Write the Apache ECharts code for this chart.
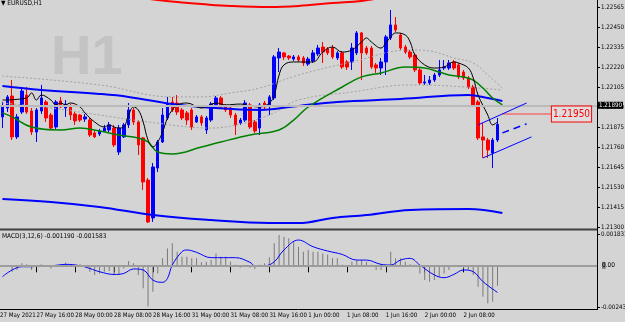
<!DOCTYPE html>
<html>
<head>
<meta charset="utf-8">
<script src="https://cdn.jsdelivr.net/npm/echarts@6/dist/echarts.min.js"></script>
<style>
html, body { margin: 0; padding: 0; background: #d4d4d4; }
#chart { width: 625px; height: 322px; }
</style>
</head>
<body>
<div id="chart"></div>
<script>
// hourly bars: day name and first hour of that day
var days = [['27 May', 9], ['28 May', 0], ['31 May', 0], ['1 Jun', 0], ['2 Jun', 0], ['3 Jun', 0]];
var labelIdx = [7, 15, 23, 31, 39, 47, 55, 63, 71, 79, 87, 95];
var firstLabel = '27 May 2021';

// [open, close, low, high]
var candles = [
	[1.21933, 1.21996, 1.21869, 1.22019], [1.21984, 1.22048, 1.21961, 1.22059], [1.22053, 1.21818, 1.21800, 1.22145],
	[1.21818, 1.21933, 1.21806, 1.21950], [1.21961, 1.22082, 1.21950, 1.22099], [1.22059, 1.21961, 1.21950, 1.22105],
	[1.21967, 1.21846, 1.21829, 1.21984], [1.21846, 1.21973, 1.21789, 1.21984], [1.21967, 1.22042, 1.21950, 1.22117],
	[1.22019, 1.21927, 1.21904, 1.22030], [1.21944, 1.21869, 1.21858, 1.21956], [1.21875, 1.22019, 1.21864, 1.22030],
	[1.22025, 1.21990, 1.21984, 1.22048], [1.21984, 1.22007, 1.21933, 1.22030], [1.21996, 1.21944, 1.21915, 1.22007],
	[1.21950, 1.21910, 1.21887, 1.21961], [1.21944, 1.21915, 1.21904, 1.21950], [1.21921, 1.21933, 1.21904, 1.21950],
	[1.21915, 1.21829, 1.21818, 1.21927], [1.21841, 1.21818, 1.21812, 1.21852], [1.21835, 1.21852, 1.21823, 1.21864],
	[1.21852, 1.21869, 1.21846, 1.21887], [1.21858, 1.21887, 1.21846, 1.21904], [1.21869, 1.21772, 1.21760, 1.21887],
	[1.21731, 1.21869, 1.21714, 1.21887], [1.21818, 1.21887, 1.21812, 1.21898], [1.21887, 1.21973, 1.21869, 1.22013],
	[1.21973, 1.21904, 1.21887, 1.21984], [1.21904, 1.21772, 1.21714, 1.21915], [1.21812, 1.21559, 1.21513, 1.21818],
	[1.21570, 1.21329, 1.21323, 1.21582], [1.21352, 1.21645, 1.21329, 1.21668], [1.21639, 1.21789, 1.21616, 1.21800],
	[1.21789, 1.21944, 1.21783, 1.21984], [1.21927, 1.22007, 1.21915, 1.22048], [1.22019, 1.21973, 1.21961, 1.22048],
	[1.22013, 1.21961, 1.21944, 1.22059], [1.21973, 1.21927, 1.21915, 1.21984], [1.21956, 1.21915, 1.21887, 1.21967],
	[1.21973, 1.21875, 1.21858, 1.21984], [1.21904, 1.21933, 1.21898, 1.21944], [1.21933, 1.21898, 1.21881, 1.21944],
	[1.21858, 1.21927, 1.21835, 1.21938], [1.21915, 1.22007, 1.21904, 1.22019], [1.22002, 1.22042, 1.21990, 1.22053],
	[1.22042, 1.21990, 1.21979, 1.22053], [1.21996, 1.21973, 1.21961, 1.22007], [1.21984, 1.21944, 1.21927, 1.21996],
	[1.21944, 1.21887, 1.21829, 1.21956], [1.21898, 1.21915, 1.21887, 1.21927], [1.21915, 1.22013, 1.21904, 1.22030],
	[1.22002, 1.21875, 1.21864, 1.22013], [1.21904, 1.21852, 1.21841, 1.21915], [1.21869, 1.22002, 1.21829, 1.22013],
	[1.22013, 1.21990, 1.21973, 1.22025], [1.22002, 1.22048, 1.21944, 1.22059], [1.22042, 1.22278, 1.22030, 1.22289],
	[1.22272, 1.22306, 1.22191, 1.22329], [1.22301, 1.22278, 1.22260, 1.22306], [1.22283, 1.22272, 1.22260, 1.22289],
	[1.22266, 1.22278, 1.22255, 1.22289], [1.22278, 1.22260, 1.22249, 1.22289], [1.22272, 1.22243, 1.22226, 1.22283],
	[1.22237, 1.22266, 1.22226, 1.22278], [1.22255, 1.22301, 1.22243, 1.22318], [1.22295, 1.22329, 1.22283, 1.22347],
	[1.22335, 1.22306, 1.22243, 1.22364], [1.22324, 1.22301, 1.22289, 1.22335], [1.22329, 1.22278, 1.22266, 1.22347],
	[1.22272, 1.22301, 1.22260, 1.22312], [1.22301, 1.22220, 1.22209, 1.22312], [1.22249, 1.22220, 1.22203, 1.22260],
	[1.22249, 1.22329, 1.22203, 1.22358], [1.22301, 1.22416, 1.22289, 1.22427], [1.22416, 1.22301, 1.22145, 1.22421],
	[1.22329, 1.22301, 1.22289, 1.22341], [1.22329, 1.22220, 1.22209, 1.22341], [1.22232, 1.22214, 1.22186, 1.22243],
	[1.22214, 1.22249, 1.22174, 1.22272], [1.22249, 1.22393, 1.22174, 1.22404], [1.22387, 1.22462, 1.22375, 1.22548],
	[1.22462, 1.22433, 1.22421, 1.22507], [1.22404, 1.22329, 1.22318, 1.22416], [1.22335, 1.22306, 1.22295, 1.22347],
	[1.22306, 1.22278, 1.22266, 1.22318], [1.22289, 1.22203, 1.22191, 1.22301], [1.22203, 1.22128, 1.22117, 1.22214],
	[1.22128, 1.22134, 1.22117, 1.22174], [1.22128, 1.22145, 1.22117, 1.22168], [1.22145, 1.22174, 1.22134, 1.22186],
	[1.22174, 1.22203, 1.22163, 1.22260], [1.22214, 1.22220, 1.22203, 1.22260], [1.22214, 1.22243, 1.22203, 1.22260],
	[1.22249, 1.22214, 1.22203, 1.22260], [1.22232, 1.22163, 1.22151, 1.22243], [1.22191, 1.22157, 1.22145, 1.22203],
	[1.22157, 1.22105, 1.22094, 1.22168], [1.22105, 1.22002, 1.21990, 1.22117], [1.22019, 1.21812, 1.21800, 1.22030],
	[1.21818, 1.21800, 1.21697, 1.21898], [1.21800, 1.21743, 1.21697, 1.21812], [1.21725, 1.21800, 1.21639, 1.21812],
	[1.21800, 1.21890, 1.21789, 1.21927]
];

// indicator lines, [bar index, price]
var fastMa = [[0, 1.22030], [5, 1.22042], [6, 1.22071], [7, 1.22030], [8, 1.22059], [10, 1.22030], [11, 1.22002], [12, 1.22013],
	[13, 1.22002], [14, 1.22013], [16, 1.21990], [17, 1.21956], [19, 1.21904], [21, 1.21875], [22, 1.21887], [23, 1.21875],
	[24, 1.21869], [25, 1.21875], [26, 1.21944], [27, 1.21990], [28, 1.21973], [29, 1.21904], [30, 1.21800], [31, 1.21760],
	[32, 1.21789], [33, 1.21846], [34, 1.21927], [35, 1.21973], [36, 1.22002], [38, 1.22013], [41, 1.21984], [44, 1.22013],
	[46, 1.22002], [49, 1.22007], [51, 1.21996], [53, 1.21990], [55, 1.22013], [56, 1.22059], [57, 1.22174], [58, 1.22232],
	[60, 1.22249], [62, 1.22249], [64, 1.22249], [66, 1.22306], [68, 1.22335], [70, 1.22306], [72, 1.22318], [74, 1.22364],
	[75, 1.22387], [76, 1.22364], [78, 1.22329], [79, 1.22358], [80, 1.22393], [81, 1.22416], [83, 1.22404], [84, 1.22364],
	[85, 1.22289], [87, 1.22232], [89, 1.22214], [91, 1.22220], [93, 1.22249], [94, 1.22243], [96, 1.22214], [97, 1.22157],
	[98, 1.22059], [100, 1.21944], [101, 1.21887], [102, 1.21904]];
var greenMa = [[0, 1.21956], [2, 1.21933], [6, 1.21875], [12, 1.21858], [16, 1.21869], [20, 1.21852], [24, 1.21829], [28, 1.21812],
	[30, 1.21789], [32, 1.21731], [35, 1.21720], [41, 1.21760], [45, 1.21789], [51, 1.21829], [57, 1.21858], [60, 1.21915],
	[63, 1.21990], [70, 1.22105], [74, 1.22163], [78, 1.22186], [83, 1.22220], [87, 1.22214], [90, 1.22191], [92, 1.22174],
	[95, 1.22163], [97, 1.22145], [99, 1.22099], [101, 1.22042], [103, 1.22002]];
var blueMa = [[0, 1.22111], [8, 1.22088], [20, 1.22065], [26, 1.22048], [35, 1.22007], [41, 1.21990], [53, 1.21973], [56, 1.21979],
	[61, 1.21996], [69, 1.22019], [82, 1.22036], [96, 1.22059], [100, 1.22042], [103, 1.22025]];
var envUpper = [[0, 1.22168], [20, 1.22117], [35, 1.22048], [41, 1.22048], [47, 1.22071], [53, 1.22099], [61, 1.22174], [72, 1.22249],
	[84, 1.22318], [88, 1.22312], [93, 1.22272], [97, 1.22243], [100, 1.22174], [103, 1.22099]];
var envLower = [[0, 1.22013], [10, 1.21984], [20, 1.21944], [30, 1.21904], [43, 1.21869], [49, 1.21892], [55, 1.21944], [61, 1.22030],
	[72, 1.22076], [84, 1.22117], [92, 1.22111], [103, 1.22088]];
var bandUpper = [[26, 1.22628], [32, 1.22605], [37, 1.22591], [41, 1.22582], [47, 1.22571], [55, 1.22565], [61, 1.22571], [68, 1.22588],
	[74, 1.22600], [79, 1.22623]];
var bandLower = [[0, 1.21461], [10, 1.21444], [20, 1.21415], [31, 1.21369], [43, 1.21340], [55, 1.21323], [61, 1.21323], [68, 1.21352],
	[75, 1.21369], [84, 1.21398], [96, 1.21404], [103, 1.21380]];

// channel drawn by hand: [start bar, start price, end bar, end price]
var channel = [[98, 1.21887, 108, 1.22013], [103, 1.21841, 108, 1.21893], [99, 1.21697, 109, 1.21818]];
var bidPrice = 1.21890;
var alertPrice = 1.21950;

var macdHist = [
	-0.00010, -0.00005, -0.00037, -0.00027, 0.00012, 0.00006, -0.00027, -0.00005, 0.00006, -0.00003,
	-0.00018, 0.00004, 0.00002, 0.00016, 0.00003, 0.00002, 0.00006, -0.00008, -0.00037, -0.00056,
	-0.00047, -0.00037, -0.00033, -0.00056, -0.00056, -0.00018, 0.00025, 0.00012, -0.00056, -0.00134,
	-0.00241, -0.00154, -0.00047, 0.00041, 0.00099, 0.00129, 0.00080, 0.00051, 0.00051, 0.00041,
	0.00041, 0.00018, 0.00021, 0.00031, 0.00070, 0.00051, 0.00051, 0.00021, 0.00004, -0.00014,
	0.00002, -0.00014, -0.00021, 0.00003, 0.00012, 0.00047, 0.00129, 0.00177, 0.00167, 0.00158,
	0.00138, 0.00109, 0.00080, 0.00090, 0.00080, 0.00080, 0.00070, 0.00064, 0.00041, 0.00041,
	0.00004, 0.00002, 0.00021, 0.00031, 0.00031, 0.00021, 0.00004, -0.00027, -0.00027, 0.00004,
	0.00080, 0.00041, 0.00041, 0.00021, 0.00006, 0.00003, -0.00047, -0.00086, -0.00095, -0.00086,
	-0.00066, -0.00047, -0.00027, -0.00003, -0.00004, -0.00018, -0.00027, -0.00056, -0.00125, -0.00183,
	-0.00222, -0.00212, -0.00119
];
var macdSignal = [[0, -0.00066], [2, -0.00027], [4, -0.00008], [6, -0.00008], [8, -0.00002], [10, -0.00002], [13, 0.00006],
	[16, -0.00002], [18, -0.00018], [20, -0.00037], [23, -0.00053], [25, -0.00047], [27, -0.00021], [29, -0.00027],
	[31, -0.00086], [33, -0.00099], [34, -0.00076], [35, 0.00002], [37, 0.00080], [38, 0.00090], [40, 0.00076],
	[43, 0.00045], [48, 0.00045], [51, 0.00018], [52, -0.00002], [54, -0.00002], [56, 0.00021], [58, 0.00090],
	[61, 0.00148], [64, 0.00109], [67, 0.00084], [70, 0.00064], [73, 0.00031], [75, 0.00031], [78, 0.00006],
	[80, 0.00002], [82, 0.00031], [84, 0.00041], [86, 0.00002], [89, -0.00056], [91, -0.00072], [93, -0.00053],
	[95, -0.00027], [97, -0.00037], [99, -0.00095], [102, -0.00158]];
var macdMin = -0.002432, macdMax = 0.001833;
var macdTitle = 'MACD(3,12,6) -0.001190 -0.001583';

var categories = [];
days.forEach(function (d) {
	for (var h = d[1]; h < 24 && categories.length < 123; h++) {
		categories.push(d[0] + ' ' + (h < 10 ? '0' : '') + h + ':00');
	}
});

var font = "'DejaVu Sans Condensed', 'DejaVu Sans', sans-serif";
var showIdx = function (i) { return labelIdx.indexOf(i) >= 0; };

function maLine(data, color, width, type, clip) {
	return {
		type: 'line', xAxisIndex: 0, yAxisIndex: 0, data: data, smooth: 0.4, showSymbol: false,
		clip: clip, silent: true,
		lineStyle: { color: color, width: width, type: type }
	};
}

var channelLines = channel.map(function (c, k) {
	return [
		{ coord: [c[0], c[1]], lineStyle: { color: '#0000ff', width: k === 1 ? 1.5 : 1, type: k === 1 ? [7, 5] : 'solid' } },
		{ coord: [c[2], c[3]] }
	];
});

var chart = echarts.init(document.getElementById('chart'));
chart.setOption({
	animation: false,
	backgroundColor: '#d4d4d4',
	textStyle: { fontFamily: font },
	title: [
		{ text: '\u25bc EURUSD,H1', left: 1, top: 0, padding: 0,
			textStyle: { fontSize: 6.5, fontWeight: 'normal', color: '#000', fontFamily: font } },
		{ text: macdTitle, left: 2, top: 233, padding: 0,
			textStyle: { fontSize: 6.5, fontWeight: 'normal', color: '#000', fontFamily: font } },
		// first date of the window, shown at the far left of the time scale
		{ text: firstLabel, left: 0, top: 312, padding: 0,
			textStyle: { fontSize: 6.1, fontWeight: 'normal', color: '#000', fontFamily: font } }
	],
	grid: [
		{ left: 0, right: 28, top: 7, height: 220, outerBoundsMode: 'none' },
		{ left: 0, right: 28, top: 234, height: 73, outerBoundsMode: 'none' }
	],
	xAxis: [
		{ type: 'category', gridIndex: 0, data: categories, show: false },
		{ type: 'category', gridIndex: 1, data: categories,
			axisLine: { show: false },
			axisTick: { show: true, alignWithLabel: true, interval: showIdx, length: 7, lineStyle: { color: '#000' } },
			axisLabel: { interval: showIdx, hideOverlap: false, align: 'left',
				margin: 5, fontSize: 6.1, color: '#000', padding: 0 } }
	],
	yAxis: [
		{ type: 'value', gridIndex: 0, position: 'right', min: 1.21300, max: 1.22565, interval: 0.00115,
			axisLine: { show: false }, splitLine: { show: false },
			axisTick: { show: true, length: 3, lineStyle: { color: '#000' } },
			axisLabel: { margin: 4, fontSize: 6.2, color: '#000', formatter: function (v) { return v.toFixed(5); } } },
		{ type: 'value', gridIndex: 1, position: 'right', min: macdMin, max: macdMax, interval: macdMax - macdMin,
			axisLine: { show: false }, splitLine: { show: false },
			axisTick: { show: true, length: 3, lineStyle: { color: '#000' } },
			axisLabel: { margin: 4, fontSize: 6.2, color: '#000', showMinLabel: true, showMaxLabel: true,
				formatter: function (v) { return v.toFixed(6); } } }
	],
	graphic: [
		{ type: 'text', left: 51, top: 31, silent: true,
			style: { text: 'H1', fill: '#c3c3c3', font: "bold 56px 'Liberation Sans', Arial, sans-serif" } },
		{ type: 'line', silent: true, shape: { x1: 0, y1: 229.5, x2: 597, y2: 229.5 }, style: { stroke: '#404040', lineWidth: 2 } },
		{ type: 'line', silent: true, shape: { x1: 0, y1: 309.5, x2: 597, y2: 309.5 }, style: { stroke: '#000', lineWidth: 1 } },
		{ type: 'line', silent: true, shape: { x1: 597.5, y1: 0, x2: 597.5, y2: 310 }, style: { stroke: '#000', lineWidth: 1 } }
	],
	series: [
		maLine(envUpper, '#a2a2a2', 1, [2, 2], true),
		maLine(envLower, '#a2a2a2', 1, [2, 2], true),
		{
			type: 'candlestick', xAxisIndex: 0, yAxisIndex: 0, data: candles, barWidth: 3, silent: true,
			itemStyle: { color: '#0000ff', color0: '#ff0000', borderColor: '#0000ff', borderColor0: '#ff0000', borderWidth: 1 },
			markLine: {
				silent: true, symbol: ['none', 'none'],
				label: { show: false },
				data: [
					{ yAxis: bidPrice, lineStyle: { color: '#bababa', width: 2, type: 'solid' },
						label: { show: true, position: 'end', distance: 1, formatter: bidPrice.toFixed(5), color: '#fff',
							backgroundColor: '#000', padding: [1, 1, 0, 1], fontSize: 6.2, fontFamily: font } },
					[
						{ coord: [103, alertPrice], lineStyle: { color: '#f07070', width: 1.5, type: 'solid' },
							label: { show: true, position: 'end', distance: 1, formatter: alertPrice.toFixed(5), color: '#ff0000',
								fontSize: 10, fontFamily: font, borderColor: '#ff0000', borderWidth: 1,
								backgroundColor: '#dedede', padding: [3, 1, 2, 1] } },
						{ coord: [113, alertPrice] }
					]
				].concat(channelLines)
			}
		},
		maLine(bandUpper, '#ff0000', 2, 'solid', false),
		maLine(bandLower, '#0000ff', 2, 'solid', true),
		maLine(blueMa, '#0000ff', 2, 'solid', true),
		maLine(greenMa, '#008000', 1.5, 'solid', true),
		maLine(fastMa, '#000000', 1, 'solid', true),
		{
			type: 'bar', xAxisIndex: 1, yAxisIndex: 1, data: macdHist, barWidth: 1, silent: true,
			itemStyle: { color: '#7a7a7a' },
			markLine: {
				silent: true, symbol: ['none', 'none'],
				data: [{ yAxis: 0 }],
				lineStyle: { color: '#9c9c9c', width: 2, type: 'solid' },
				label: { show: true, position: 'end', distance: 5, formatter: '{b|0}.00', color: '#000', fontSize: 6.5,
					rich: { b: { backgroundColor: '#808080', color: '#000', fontSize: 6.5 } } }
			}
		},
		{
			type: 'line', xAxisIndex: 1, yAxisIndex: 1, data: macdSignal, smooth: 0.4, showSymbol: false, silent: true,
			lineStyle: { color: '#0000ff', width: 1 }
		}
	]
});
</script>
</body>
</html>
